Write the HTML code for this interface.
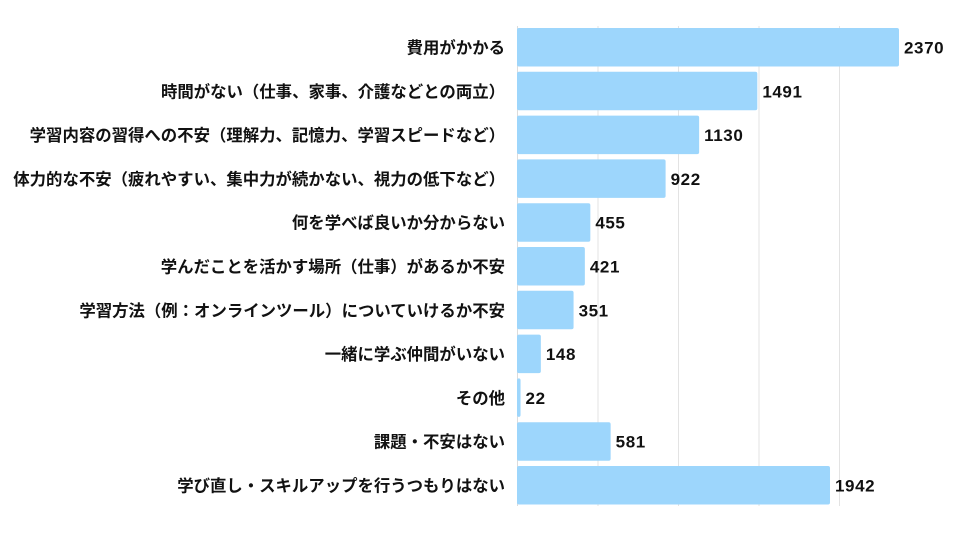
<!DOCTYPE html>
<html><head><meta charset="utf-8"><style>
body{margin:0;width:960px;height:540px;background:#fff;overflow:hidden}
svg text{font-family:"Liberation Sans","Noto Sans CJK JP",sans-serif;font-weight:bold;font-size:16.4px;fill:#111}
</style></head><body>
<svg width="960" height="540" xmlns="http://www.w3.org/2000/svg">
<g stroke="#e3e3e3" stroke-width="1">
<line x1="598" y1="26" x2="598" y2="506"/>
<line x1="678.5" y1="26" x2="678.5" y2="506"/>
<line x1="759" y1="26" x2="759" y2="506"/>
<line x1="839.5" y1="26" x2="839.5" y2="506"/>
</g>
<line x1="517.5" y1="26" x2="517.5" y2="506" stroke="#dcdcdc"/>
<g fill="#9dd6fc" id="bars"></g>
<g id="labels"></g>
</svg>
<script>
var d=[["費用がかかる",2370],["時間がない（仕事、家事、介護などとの両立）",1491],["学習内容の習得への不安（理解力、記憶力、学習スピードなど）",1130],["体力的な不安（疲れやすい、集中力が続かない、視力の低下など）",922],["何を学べば良いか分からない",455],["学んだことを活かす場所（仕事）があるか不安",421],["学習方法（例：オンラインツール）についていけるか不安",351],["一緒に学ぶ仲間がいない",148],["その他",22],["課題・不安はない",581],["学び直し・スキルアップを行うつもりはない",1942]];
var ns="http://www.w3.org/2000/svg",b=document.getElementById("bars"),l=document.getElementById("labels");
d.forEach(function(r,i){var y=28+43.8*i,w=r[1]*0.16118;
var e=document.createElementNS(ns,"rect");e.setAttribute("x",517);e.setAttribute("y",y);e.setAttribute("width",Math.max(w,3));e.setAttribute("height",38.5);e.setAttribute("rx",2);b.appendChild(e);
var t=document.createElementNS(ns,"text");t.setAttribute("x",505);t.setAttribute("y",y+25.5);t.setAttribute("text-anchor","end");t.textContent=r[0];l.appendChild(t);
var v=document.createElementNS(ns,"text");v.setAttribute("x",517+Math.max(w,3)+5);v.setAttribute("y",y+25.5);v.setAttribute("style","font-size:17px;letter-spacing:0.6px");v.textContent=r[1];l.appendChild(v);});
</script>
</body></html>
